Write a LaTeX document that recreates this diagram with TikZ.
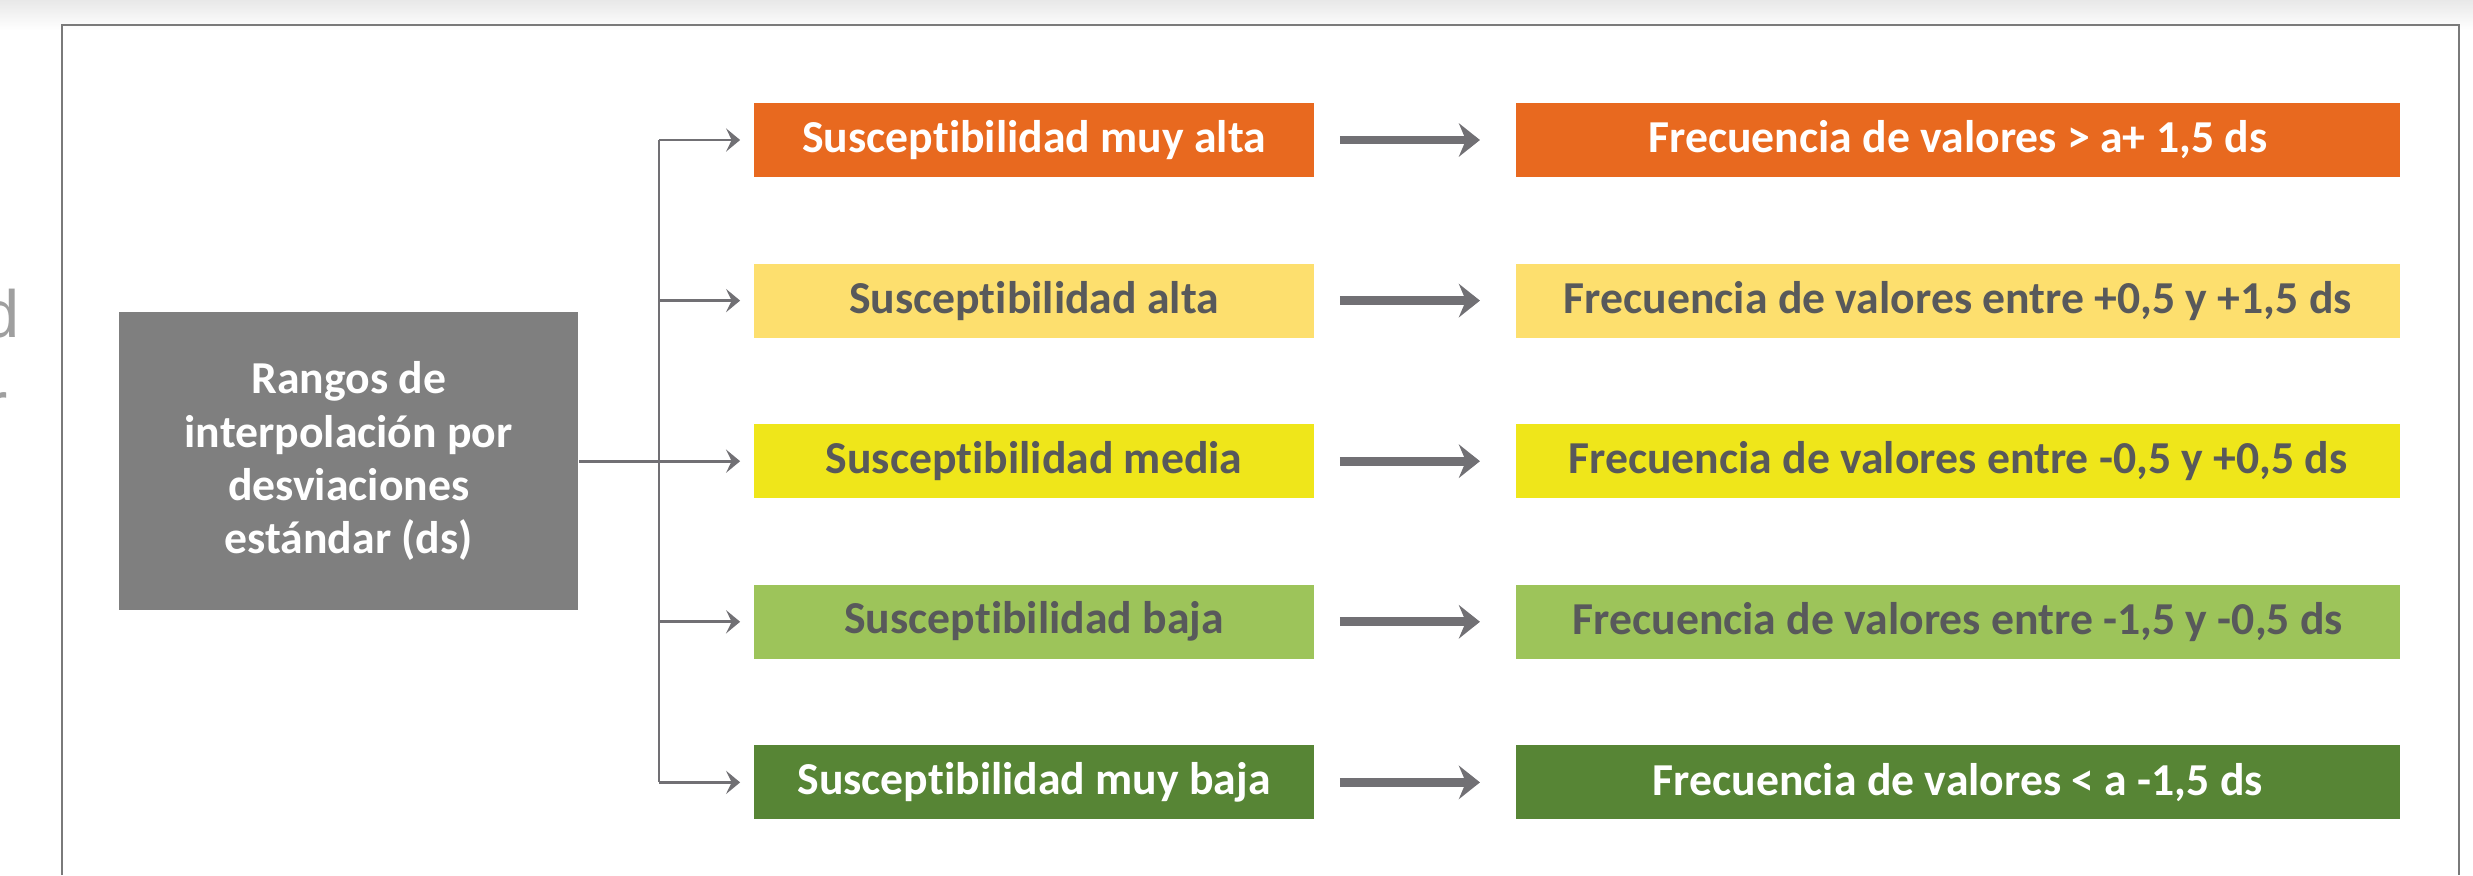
\documentclass[tikz,border=0pt]{standalone}
\usepackage{fontspec}
\setmainfont{Carlito}[Ligatures=NoCommon]
\newfontfamily\fondo{Liberation Sans}
\usetikzlibrary{positioning,arrows.meta}

\definecolor{naranja}{HTML}{E8691F}
\definecolor{amarillo}{HTML}{FDDF6E}
\definecolor{limon}{HTML}{EFE61A}
\definecolor{verdeclaro}{HTML}{9DC45A}
\definecolor{verdeosc}{HTML}{578535}
\definecolor{grisbox}{HTML}{7F7F7F}
\definecolor{grisflecha}{HTML}{717074}
\definecolor{textogris}{HTML}{58595B}
\definecolor{marco}{HTML}{7A7A7A}

% sin la ligadura "ti" de Carlito
\newcommand{\susc}{Suscept\kern0pt ibilidad}

\begin{document}
\begin{tikzpicture}[
  x=0.01cm, y=-0.01cm,
  node distance=1.605cm,
  rango/.style={fill=grisbox, text=white, font=\bfseries\fontsize{13}{15.2}\selectfont, align=center, minimum width=4.59cm, minimum height=2.98cm, inner sep=0pt},
  nivel/.style={font=\bfseries\fontsize{13}{15}\selectfont, minimum width=5.6cm, minimum height=0.74cm, inner sep=0pt},
  freq/.style={nivel, minimum width=8.84cm},
  ramal/.style={draw=grisflecha, line width=0.75pt},
  flecha/.style={ramal, -{Stealth[length=4pt, width=6.6pt, inset=1.6pt]}, shorten >=0.13cm},
  flechagruesa/.style={draw=grisflecha, line width=2.5pt, -{Stealth[length=6pt, width=9.5pt, inset=2pt]}, shorten <=0.25cm, shorten >=0.35cm}
]
\shade[top color=black!9, bottom color=white] (0,0) rectangle (2473,30);
\useasboundingbox (0,0) rectangle (2473,875);
\draw[marco, line width=0.6pt] (62,875) -- (62,25) -- (2459,25) -- (2459,875);

% restos de texto de la pagina
\begin{scope}
  \clip (0,0) rectangle (40,875);
  \node[anchor=base east, inner sep=0pt, text=gray!75, font=\fondo\fontsize{19}{19}\selectfont] (fragd) at (20,337) {d};
  \node[anchor=base east, inner sep=0pt, text=gray!75, font=\fondo\fontsize{19}{19}\selectfont] (fragr) at (8,428) {r};
\end{scope}

\node[nivel, fill=naranja, text=white] (malta) at (1034,140) {\susc{} muy alta};
\node[nivel, fill=amarillo, text=textogris, below of=malta] (alta) {\susc{} alta};
\node[nivel, fill=limon, text=textogris, below of=alta] (media) {\susc{} media};
\node[nivel, fill=verdeclaro, text=textogris, below of=media] (baja) {\susc{} baja};
\node[nivel, fill=verdeosc, text=white, below of=baja] (mbaja) {\susc{} muy baja};

\node[freq, fill=naranja, text=white, right=2cm of malta] (fmalta) {Frecuencia de valores > a+ 1,5 ds};
\node[freq, fill=amarillo, text=textogris, right=2cm of alta] (falta) {Frecuencia de valores entre +0,5 y +1,5 ds};
\node[freq, fill=limon, text=textogris, right=2cm of media] (fmedia) {Frecuencia de valores entre -0,5 y +0,5 ds};
\node[freq, fill=verdeclaro, text=textogris, right=2cm of baja] (fbaja) {Frecuencia de valores entre -1,5 y -0,5 ds};
\node[freq, fill=verdeosc, text=white, right=2cm of mbaja] (fmbaja) {Frecuencia de valores < a -1,5 ds};

\node[rango, left=1.74cm of media] (rangos) {Rangos de\\interpolación por\\desviaciones\\estándar (ds)};

\coordinate[right=0.8cm of rangos.east] (split);
\draw[ramal] (rangos) -- (split);
\draw[ramal] (split |- malta.west) -- (split |- mbaja.west);
\foreach \n in {malta,alta,media,baja,mbaja}
  \draw[flecha] (split |- \n.west) -- (\n.west);
\foreach \n in {malta,alta,media,baja,mbaja}
  \draw[flechagruesa] (\n) -- (f\n);
\end{tikzpicture}
\end{document}
